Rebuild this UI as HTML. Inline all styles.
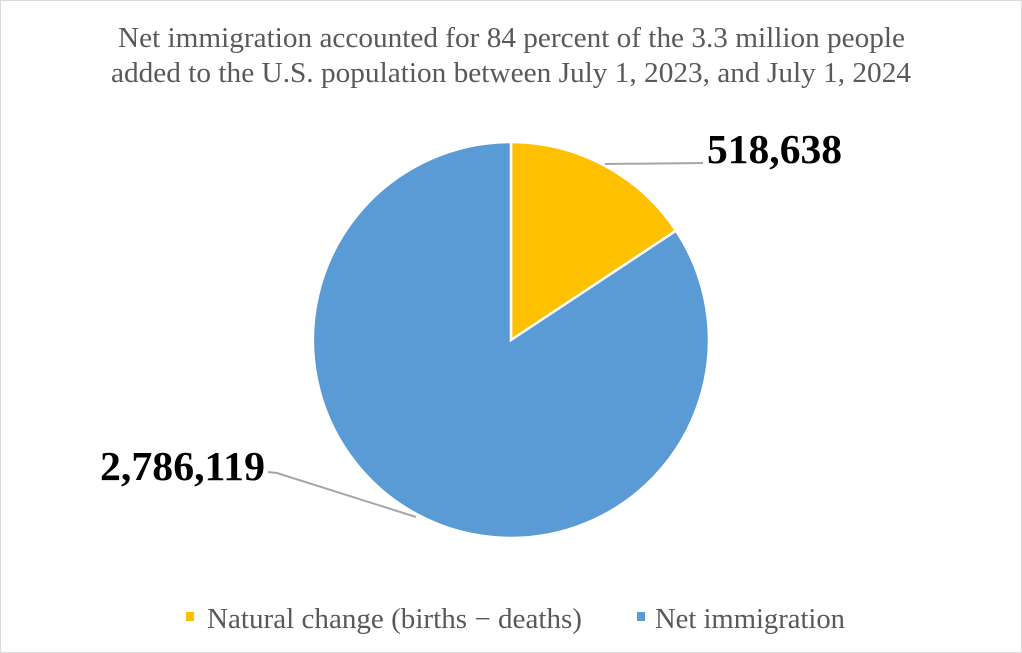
<!DOCTYPE html>
<html><head><meta charset="utf-8"><style>
html,body{margin:0;padding:0;background:#fff}
svg{display:block}
</style></head><body>
<svg width="1022" height="653" viewBox="0 0 1022 653" xmlns="http://www.w3.org/2000/svg" font-family="Liberation Serif, serif">
<rect x="0.5" y="0.5" width="1021" height="652" fill="#fff" stroke="#d9d9d9"/>
<g fill="#595959" font-size="29">
<text x="118" y="47" textLength="787" lengthAdjust="spacingAndGlyphs">Net immigration accounted for 84 percent of the 3.3 million people</text>
<text x="111" y="82" textLength="800" lengthAdjust="spacingAndGlyphs">added to the U.S. population between July 1, 2023, and July 1, 2024</text>
</g>
<path d="M511,340 L511,142 A198,198 0 0,1 676,230.7 Z" fill="#ffc000" stroke="#fff" stroke-width="2.5"/>
<path d="M511,340 L676,230.7 A198,198 0 1,1 511,142 Z" fill="#5b9bd5" stroke="#fff" stroke-width="2.5"/>
<polyline points="605,164 703,163" fill="none" stroke="#a6a6a6" stroke-width="2"/>
<polyline points="268,472 277,473 416,517" fill="none" stroke="#a6a6a6" stroke-width="2"/>
<g font-weight="bold" fill="#000">
<text x="707" y="163" font-size="41" textLength="135" lengthAdjust="spacingAndGlyphs">518,638</text>
<text x="100" y="480" font-size="41" textLength="165" lengthAdjust="spacingAndGlyphs">2,786,119</text>
</g>
<rect x="186" y="612" width="8" height="9" fill="#ffc000"/>
<rect x="637" y="612" width="8" height="9" fill="#5b9bd5"/>
<g fill="#595959" font-size="28">
<text x="207" y="628" textLength="375" lengthAdjust="spacingAndGlyphs">Natural change (births − deaths)</text>
<text x="655" y="628" textLength="190" lengthAdjust="spacingAndGlyphs">Net immigration</text>
</g>
</svg>
</body></html>
